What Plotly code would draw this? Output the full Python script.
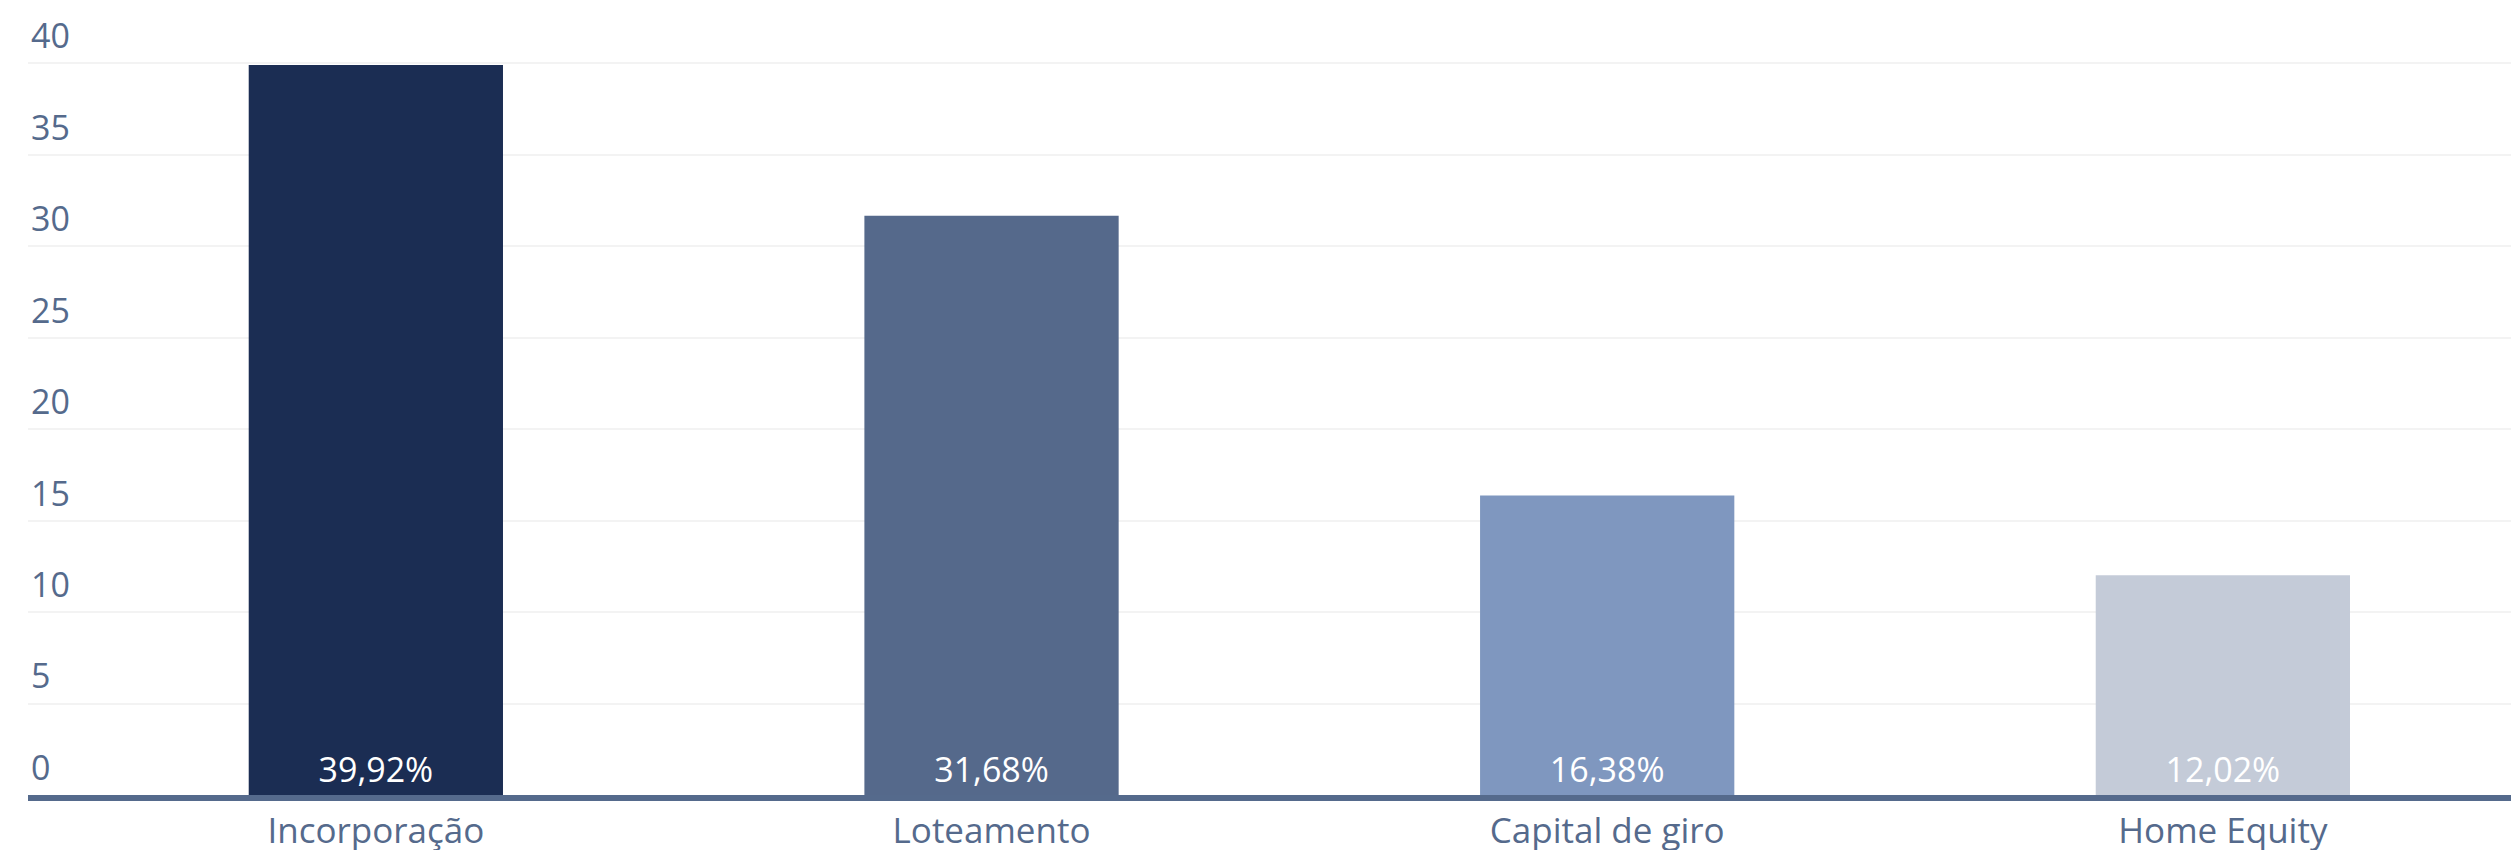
import plotly.graph_objects as go

categories = ["Incorporação", "Loteamento", "Capital de giro", "Home Equity"]
values = [39.92, 31.68, 16.38, 12.02]
labels = ["39,92%", "31,68%", "16,38%", "12,02%"]
colors = ["#1b2d53", "#55698b", "#7f97bf", "#c4cbd8"]
y_ticks = [0, 5, 10, 15, 20, 25, 30, 35, 40]

FONT = "Open Sans"
AXIS_COLOR = "#556a8c"

fig = go.Figure(
    go.Bar(
        x=categories,
        y=values,
        text=labels,
        textposition="inside",
        insidetextanchor="start",
        textangle=0,
        textfont=dict(family=FONT, size=34, color="#ffffff"),
        marker=dict(color=colors, line=dict(width=0)),
        cliponaxis=False,
        hoverinfo="skip",
    )
)

fig.update_layout(
    width=2519,
    height=850,
    margin=dict(l=20, r=8, t=50, b=63, autoexpand=False),
    paper_bgcolor="#ffffff",
    plot_bgcolor="#ffffff",
    bargap=0.587,
    showlegend=False,
    font=dict(family=FONT, color=AXIS_COLOR),
    uniformtext=dict(mode=False),
)

fig.update_xaxes(
    type="category",
    range=[-0.565, 3.481],
    showgrid=False,
    showline=True,
    linewidth=6,
    linecolor=AXIS_COLOR,
    ticks="",
    automargin=False,
    tickfont=dict(family=FONT, size=35, color=AXIS_COLOR),
    zeroline=False,
)

fig.update_yaxes(
    range=[0, 40.3],
    tickvals=y_ticks,
    ticktext=[str(v) for v in y_ticks],
    showgrid=True,
    gridcolor="#f3f3f3",
    gridwidth=2,
    zeroline=False,
    showline=False,
    ticks="",
    automargin=False,
    ticklabelposition="inside",
    ticklabelshift=-27,
    ticklabelstandoff=0,
    ticklabeloverflow="allow",
    tickfont=dict(family=FONT, size=34, color=AXIS_COLOR),
)

fig.write_html("out.html")
